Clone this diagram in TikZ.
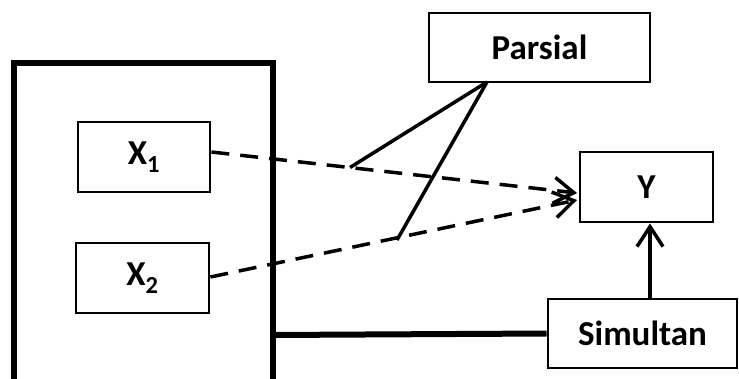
\documentclass[tikz,border=0pt]{standalone}
\usepackage{fontspec}
\setmainfont{Carlito}
\usetikzlibrary{arrows.meta}
\tikzset{
  box/.style={draw=black, line width=2.8pt, fill=white, inner sep=0pt, font=\fontsize{35}{42}\selectfont\bfseries},
  dashlink/.style={line width=3.5pt, dash pattern=on 18pt off 11pt, -{Straight Barb[length=20pt,width=26pt,line width=3.5pt]}},
  solidlink/.style={line width=3.5pt},
  heavy/.style={line width=6pt},
}
\begin{document}
\begin{tikzpicture}[x=1pt,y=-1pt]
\useasboundingbox (0,0) rectangle (739,378);
% outer frame (open at the bottom of the picture)
\draw[heavy, line join=miter] (14,380) -- (14,63) -- (273,63) -- (273,380);
\coordinate (frameR) at (273,335);
% boxes
\node[box, minimum width=132pt, minimum height=70pt] (x1) at (144,157) {X\textsubscript{1}};
\node[box, minimum width=133pt, minimum height=70pt] (x2) at (142.5,278) {X\textsubscript{2}};
\node[box, minimum width=221pt, minimum height=69pt] (par) at (539.5,47.5) {Parsial};
\node[box, minimum width=133pt, minimum height=70pt] (y) at (646.5,187) {Y};
\node[box, minimum width=189pt, minimum height=69pt] (sim) at (642.5,333.5) {Simultan};
% connectors
\coordinate (t1) at (577,193);
\coordinate (t2) at (577,200);
\draw[dashlink] (x1.east |- 0,152) -- (t1);
\draw[dashlink] (x2.east |- 0,277) -- (t2);
\coordinate (pb) at (487,82);
\coordinate (m1) at (350,167.5);
\coordinate (m2) at (397,240);
\draw[solidlink] (pb) -- (m1);
\draw[solidlink] (pb) -- (m2);
\draw[solidlink, -{Straight Barb[length=20pt,width=26pt,line width=3.5pt]}] (sim.north -| 650,0) -- (y.south -| 650,0);
\draw[heavy] (frameR) -- (sim.west);
\end{tikzpicture}
\end{document}
